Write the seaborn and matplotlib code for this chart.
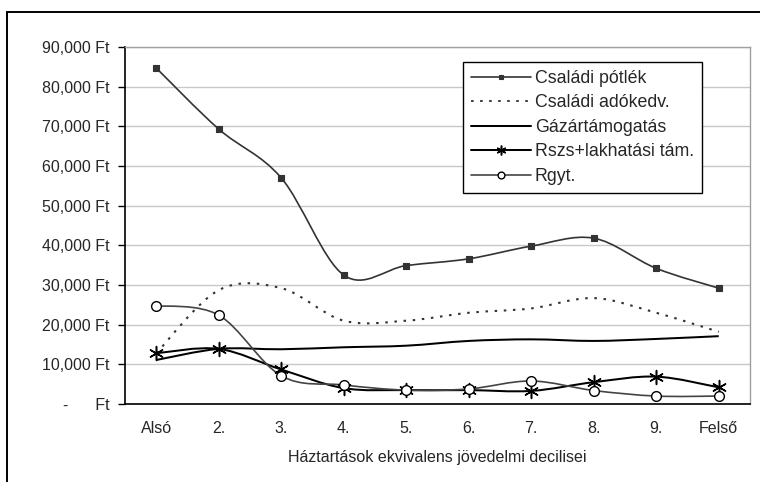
import numpy as np
import pandas as pd
import matplotlib
matplotlib.use("Agg")
import matplotlib.pyplot as plt
from matplotlib.path import Path
from matplotlib.patches import PathPatch
from matplotlib.lines import Line2D
import seaborn as sns

# Income deciles and per-household support amounts (Ft)
deciles = ["Alsó", "2.", "3.", "4.", "5.", "6.", "7.", "8.", "9.", "Felső"]
csaladi_potlek = [84700, 69300, 57000, 32500, 34900, 36600, 39800, 41800, 34200, 29200]
csaladi_adokedv = [12800, 28700, 29200, 21000, 21000, 23000, 24100, 26700, 23000, 18200]
gazartamogatas = [11100, 13900, 13800, 14300, 14700, 15900, 16300, 15900, 16400, 17100]
rszs_lakhatasi = [12800, 13900, 8700, 4000, 3500, 3500, 3300, 5500, 6900, 4200]
rgyt = [24800, 22400, 7100, 4800, 3500, 3800, 5800, 3400, 2000, 2000]

series_names = ["Családi pótlék", "Családi adókedv.", "Gázártámogatás",
                "Rszs+lakhatási tám.", "Rgyt."]
series_values = [csaladi_potlek, csaladi_adokedv, gazartamogatas, rszs_lakhatasi, rgyt]

y_ticks = list(range(0, 90001, 10000))
x_label = "Háztartások ekvivalens jövedelmi decilisei"

sns.set_style("white")
plt.rcParams["font.family"] = ["Liberation Sans", "DejaVu Sans"]
plt.rcParams["font.size"] = 11.5

df = pd.DataFrame({"x": np.arange(len(deciles))})
for name, vals in zip(series_names, series_values):
    df[name] = vals

fig = plt.figure(figsize=(7.6, 4.82), dpi=100)
ax = fig.add_axes([125 / 760, 78 / 482, 625 / 760, 357 / 482])

# outer chart frame (left and top edges)
fig.add_artist(Line2D([7 / 760, 7 / 760], [0, 1 - 12 / 482], color="black", lw=1.4,
                      transform=fig.transFigure))
fig.add_artist(Line2D([7 / 760, 1], [1 - 12 / 482, 1 - 12 / 482], color="black", lw=1.4,
                      transform=fig.transFigure))

styles = {
    "Családi pótlék": dict(color="#333333", lw=1.2, ls="-", marker="s", ms=5,
                           mfc="#333333", mec="#333333", mew=0.8),
    "Családi adókedv.": dict(color="#333333", lw=1.5, ls=(0, (1.2, 3.2)), marker=None),
    "Gázártámogatás": dict(color="#000000", lw=1.45, ls="-", marker=None),
    "Rszs+lakhatási tám.": dict(color="#000000", lw=1.45, ls="-", marker=(6, 2, 0), ms=10,
                                mfc="black", mec="black", mew=1.1),
    "Rgyt.": dict(color="#444444", lw=1.2, ls="-", marker="o", ms=7,
                  mfc="white", mec="black", mew=1.0),
}


def smooth_path(xs, ys):
    """Catmull-Rom style cubic Bezier path through the given points."""
    pts = np.column_stack([xs, ys]).astype(float)
    n = len(pts)
    verts = [pts[0]]
    codes = [Path.MOVETO]
    for i in range(n - 1):
        p0 = pts[i - 1] if i > 0 else pts[i]
        p1 = pts[i]
        p2 = pts[i + 1]
        p3 = pts[i + 2] if i + 2 < n else pts[i + 1]
        c1 = p1 + (p2 - p0) / 6.0
        c2 = p2 - (p3 - p1) / 6.0
        verts += [c1, c2, p2]
        codes += [Path.CURVE4] * 3
    return Path(verts, codes)


handles = []
for name in series_names:
    st = styles[name]
    patch = PathPatch(smooth_path(df["x"], df[name]), facecolor="none",
                      edgecolor=st["color"], lw=st["lw"], ls=st["ls"],
                      zorder=3 if name != "Családi adókedv." else 2,
                      capstyle="butt")
    ax.add_patch(patch)
    if st["marker"] is not None:
        sns.scatterplot(data=df, x="x", y=name, ax=ax, marker=st["marker"],
                        s=st["ms"] ** 2, color=st["mfc"], edgecolor=st["mec"],
                        linewidth=st["mew"], zorder=4, legend=False)
    dotted = name == "Családi adókedv."
    handles.append(Line2D([0], [0], color=st["color"], lw=1.3 if dotted else st["lw"],
                          ls=(0, (1.5, 3.5)) if dotted else st["ls"],
                          marker=st["marker"] if st["marker"] is not None else None,
                          ms=(st.get("ms", 0) * 0.7) if st["marker"] is not None else 0,
                          mfc=st.get("mfc", "none"), mec=st.get("mec", "none"),
                          mew=st.get("mew", 1)))

ax.set_xlim(-0.5, len(deciles) - 0.5)
ax.set_ylim(0, 90000)

# category labels centered in bins, tick marks on bin boundaries
ax.set_xticks(np.arange(len(deciles)))
ax.set_xticklabels(deciles)
ax.set_xticks(np.arange(-0.5, len(deciles), 1.0), minor=True)
ax.tick_params(axis="x", which="major", length=0, pad=12)
ax.tick_params(axis="x", which="minor", length=5, width=1, color="black", direction="out")

ax.set_yticks(y_ticks)
ax.set_yticklabels([f"{v:,.0f} Ft" if v else "-      Ft" for v in y_ticks])
ax.tick_params(axis="y", length=5, width=1, color="black", direction="out", pad=6, left=True)

ax.grid(axis="y", color="#c8c8c8", lw=1.0)
ax.grid(axis="x", visible=False)
ax.set_axisbelow(True)

for side in ["left", "bottom"]:
    ax.spines[side].set_color("black")
    ax.spines[side].set_linewidth(1.2)
for side in ["top", "right"]:
    ax.spines[side].set_color("#a0a0a0")
    ax.spines[side].set_linewidth(1.0)

ax.set_xlabel(x_label, labelpad=10)
ax.set_ylabel("")

leg = ax.legend(handles, series_names, loc="upper left",
                bbox_to_anchor=((463 - 125) / 625, (404 - 62) / 357),
                frameon=True, fancybox=False, shadow=False, framealpha=1,
                edgecolor="black", handlelength=3.4, handletextpad=0.2,
                borderpad=0.45, labelspacing=0.42, borderaxespad=0,
                prop={"size": 12.8})
leg.get_frame().set_linewidth(1.0)

fig.savefig("out.png", dpi=100)
